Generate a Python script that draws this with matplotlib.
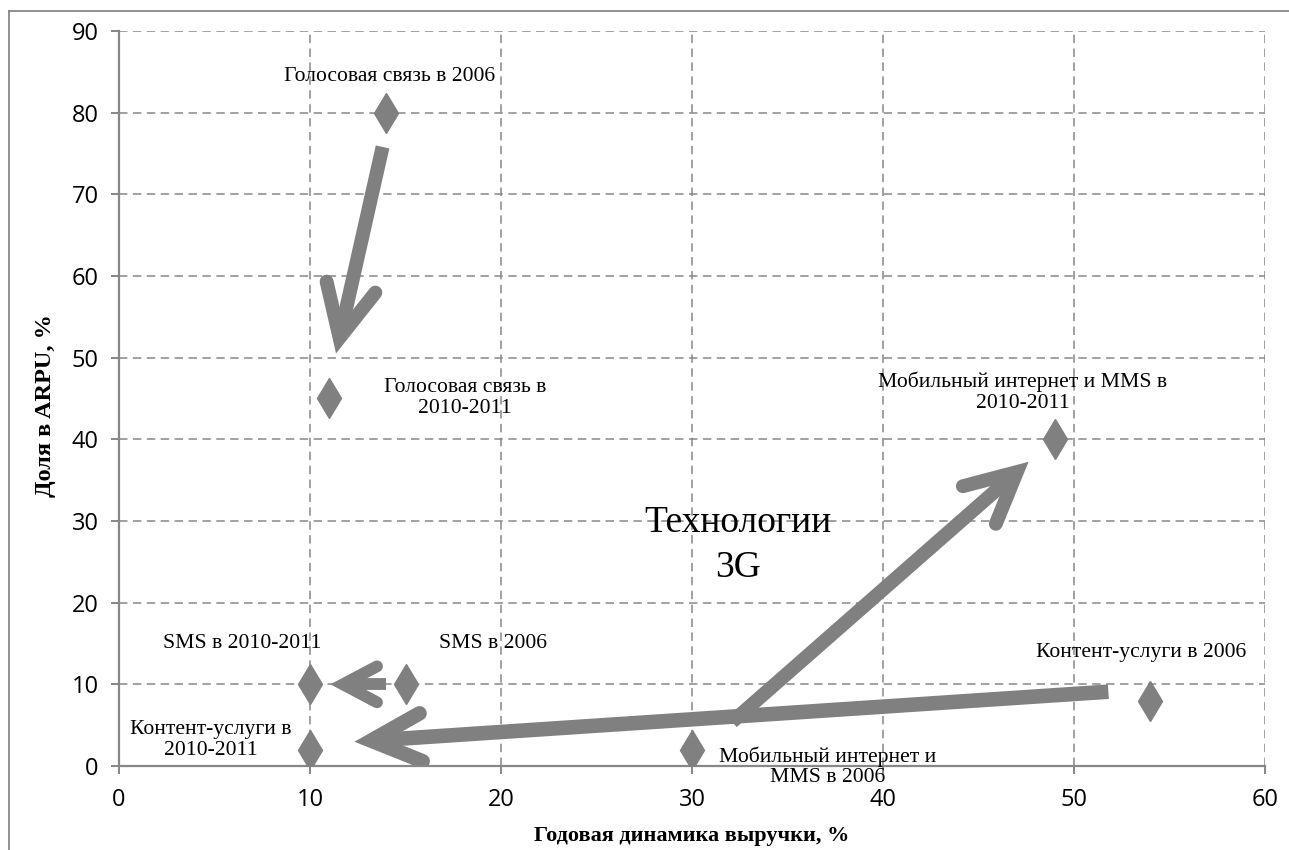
import numpy as np
import matplotlib
matplotlib.use("Agg")
import matplotlib.pyplot as plt
from matplotlib.lines import Line2D

# --- data -------------------------------------------------------------
point_names = [
    "Голосовая связь в 2006", "Голосовая связь в 2010-2011",
    "SMS в 2006", "SMS в 2010-2011",
    "Контент-услуги в 2006", "Контент-услуги в 2010-2011",
    "Мобильный интернет и MMS в 2006", "Мобильный интернет и MMS в 2010-2011",
]
growth = [14, 11, 15, 10, 54, 10, 30, 49]        # годовая динамика выручки, %
arpu_share = [80, 45, 10, 10, 8, 2, 2, 40]       # доля в ARPU, %

x_ticks = [0, 10, 20, 30, 40, 50, 60]
y_ticks = [0, 10, 20, 30, 40, 50, 60, 70, 80, 90]

# point labels: text, anchor (x, y)
label_texts = [
    "Голосовая связь в 2006",
    "Голосовая связь в\n2010-2011",
    "SMS в 2006",
    "SMS в 2010-2011",
    "Контент-услуги в 2006",
    "Контент-услуги в\n2010-2011",
    "Мобильный интернет и\nMMS в 2006",
    "Мобильный интернет и MMS в\n2010-2011",
]
label_x = [14.15, 18.1, 19.6, 6.45, 53.5, 4.8, 37.1, 47.3]
label_y = [84.4, 45.1, 15.0, 15.0, 13.9, 3.2, -0.1, 45.8]

# transition arrows: tail -> head (data units), head size in pixels
arrow_tail = [(13.8, 75.8), (14.0, 10.0), (51.8, 9.1), (32.1, 5.4)]
arrow_head = [(11.4, 50.9), (11.2, 10.0), (12.5, 3.0), (47.5, 37.0)]
arrow_head_len = [52, 34, 50, 50]
arrow_head_half = [25, 18, 24, 25]
arrow_width = [10.0, 8.5, 10.5, 10.0]

GRAY = "#808080"
AXGRAY = "#878787"

fig = plt.figure(figsize=(12.89, 8.50), dpi=100)
ax = fig.add_axes([119 / 1289, 1 - 766 / 850, (1265 - 119) / 1289, (766 - 31) / 850])
ax.set_xlim(0, 60)
ax.set_ylim(0, 90)

# grid
for xv in x_ticks[1:]:
    ax.axvline(xv, color=AXGRAY, lw=1.1, dashes=(5.5, 3.6), zorder=0.5)
for yv in y_ticks[1:]:
    ax.axhline(yv, color=AXGRAY, lw=1.1, dashes=(5.5, 3.6), zorder=0.5)

for side in ("top", "right"):
    ax.spines[side].set_visible(False)
for side in ("left", "bottom"):
    ax.spines[side].set_color(AXGRAY)
    ax.spines[side].set_linewidth(1.6)

ax.set_xticks(x_ticks)
ax.set_yticks(y_ticks)
ax.tick_params(axis="both", direction="out", length=5.5, width=1.4, color=AXGRAY,
               labelsize=17)
ax.tick_params(axis="y", pad=9)
ax.tick_params(axis="x", pad=10)
for lab in ax.get_xticklabels() + ax.get_yticklabels():
    lab.set_family("Open Sans")

ax.set_xlabel("Годовая динамика выручки, %", family="Liberation Serif",
              fontweight="bold", fontsize=16, va="center")
ax.set_ylabel("Доля в ARPU, %", family="Liberation Serif",
              fontweight="bold", fontsize=17.5, va="center")
ax.xaxis.set_label_coords(0.5, -(836 - 766) / 735)
ax.yaxis.set_label_coords(-(119 - 46) / 1146, 0.49)

# points
ax.plot(growth, arpu_share, linestyle="none", marker="d", markersize=20,
        color=GRAY, mec=GRAY, mew=1, zorder=3)

# point labels
for t, lx, ly in zip(label_texts, label_x, label_y):
    ax.text(lx, ly, t, family="Liberation Serif", fontsize=15.6, ha="center",
            va="center", linespacing=1.12, zorder=4, clip_on=False)

ax.text(32.4, 27.0, "Технологии\n3G", family="Liberation Serif", fontsize=27,
        ha="center", va="center", linespacing=1.4, zorder=4)

# arrows drawn in pixel space, then mapped back to data
inv = ax.transData.inverted()
for tail, head, hl, hw, lw_pt in zip(arrow_tail, arrow_head, arrow_head_len,
                                      arrow_head_half, arrow_width):
    lw_px = lw_pt / 72 * fig.dpi
    p0 = ax.transData.transform(tail)
    p1 = ax.transData.transform(head)
    d = p1 - p0
    u = d / np.hypot(*d)
    n = np.array([-u[1], u[0]])
    half_angle = np.arctan2(hw, hl)
    tip = p1 - u * 0.8 * (lw_px / 2) / np.sin(half_angle)
    shaft_end = tip - u * lw_px * 0.8
    a1 = tip - u * hl + n * hw
    a2 = tip - u * hl - n * hw
    shaft = inv.transform(np.array([p0, shaft_end]))
    chev = inv.transform(np.array([a1, tip, a2]))
    ax.add_line(Line2D(shaft[:, 0], shaft[:, 1], color=GRAY, lw=lw_pt,
                       solid_capstyle="butt", zorder=2))
    ax.add_line(Line2D(chev[:, 0], chev[:, 1], color=GRAY, lw=lw_pt,
                       solid_capstyle="round", solid_joinstyle="miter", zorder=2))

# outer frame
fig.add_artist(Line2D([9 / 1289, 1.0], [1 - 11 / 850, 1 - 11 / 850],
                      transform=fig.transFigure, color=AXGRAY, lw=1.3))
fig.add_artist(Line2D([9 / 1289, 9 / 1289], [0.0, 1 - 11 / 850],
                      transform=fig.transFigure, color=AXGRAY, lw=1.3))

fig.savefig("out.png", dpi=100)
